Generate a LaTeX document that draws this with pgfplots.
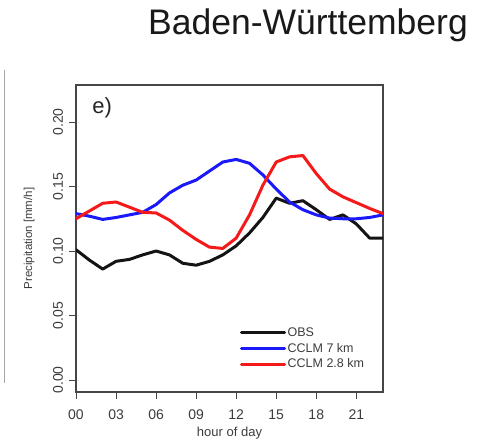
\documentclass[border=0pt]{standalone}
\usepackage{pgfplots}
\pgfplotsset{compat=1.18}
\usepackage{fontspec}
\setmainfont{Liberation Sans}

\definecolor{obs}{RGB}{20,20,20}
\definecolor{c7}{RGB}{25,25,250}
\definecolor{c28}{RGB}{245,25,25}
\definecolor{frame}{RGB}{70,70,70}
\definecolor{txt}{RGB}{60,60,60}

\begin{document}
\begin{tikzpicture}[x=1pt,y=1pt]
\path[use as bounding box] (0,0) rectangle (481,441);

% edge of the neighbouring panel
\draw[black!35, line width=1pt] (4,371) -- (4,58);

% region title
\node[anchor=base east, font=\fontsize{35.5}{35.5}\selectfont, text=black!90, inner sep=0pt]
  at (468,406) {Baden-Württemberg};

\begin{axis}[
  at={(76pt,49pt)}, anchor=south west,
  scale only axis, width=307pt, height=307pt,
  xmin=0, xmax=23,
  ymin=-0.0093, ymax=0.2287,
  axis line style={draw=frame, line width=1.2pt},
  tick style={draw=frame, line width=1pt},
  tick align=outside, major tick length=7pt,
  xtick pos=bottom, ytick pos=left,
  xtick={0,3,6,9,12,15,18,21},
  xticklabels={00,03,06,09,12,15,18,21},
  ytick={0,0.05,0.10,0.15,0.20},
  yticklabels={0.00,0.05,0.10,0.15,0.20},
  ticklabel style={font=\fontsize{14}{14}\selectfont, text=txt},
  /pgf/number format/assume math mode=true,
  xticklabel style={anchor=center, yshift=-16pt},
  yticklabel style={rotate=90, anchor=center},
  yticklabel shift=11pt,
  xlabel={hour of day},
  xlabel style={at={(axis description cs:0.5,-0.1336)}, anchor=center,
    font=\fontsize{13}{13}\selectfont, text=txt},
  ylabel={Precipitation [mm/h]},
  ylabel style={at={(axis description cs:-0.1525,0.5)}, rotate=0, anchor=center,
    font=\fontsize{11.5}{11.5}\selectfont, text=txt},
  legend style={at={(axis description cs:0.534,0.2155)}, anchor=north west,
    draw=none, fill=none, inner sep=0pt, row sep=2.3pt,
    font=\fontsize{12.5}{12.5}\selectfont, text=txt,
    nodes={inner sep=1.5pt}},
  legend cell align=left,
  legend image code/.code={\draw[#1, line width=3pt] (0pt,0pt) -- (35pt,0pt);
    \path (0pt,0pt) -- (43pt,0pt);},
  every axis plot/.append style={line width=3pt, line join=round, line cap=round},
]

\addplot[obs] coordinates {
 (0,0.101) (1,0.093) (2,0.086) (3,0.092) (4,0.0935) (5,0.097)
 (6,0.100) (7,0.097) (8,0.0905) (9,0.089) (10,0.092) (11,0.097)
 (12,0.104) (13,0.114) (14,0.126) (15,0.141) (16,0.137) (17,0.139)
 (18,0.132) (19,0.1245) (20,0.128) (21,0.121) (22,0.110) (23,0.110)};
\addlegendentry{OBS}

\addplot[c7] coordinates {
 (0,0.129) (1,0.127) (2,0.1245) (3,0.126) (4,0.128) (5,0.130)
 (6,0.136) (7,0.145) (8,0.151) (9,0.155) (10,0.162) (11,0.169)
 (12,0.171) (13,0.168) (14,0.159) (15,0.148) (16,0.138) (17,0.132)
 (18,0.128) (19,0.1255) (20,0.125) (21,0.125) (22,0.126) (23,0.128)};
\addlegendentry{CCLM 7 km}

\addplot[c28] coordinates {
 (0,0.125) (1,0.131) (2,0.137) (3,0.138) (4,0.134) (5,0.130)
 (6,0.1295) (7,0.124) (8,0.116) (9,0.109) (10,0.103) (11,0.102)
 (12,0.110) (13,0.128) (14,0.151) (15,0.169) (16,0.173) (17,0.174)
 (18,0.160) (19,0.148) (20,0.142) (21,0.1375) (22,0.133) (23,0.129)};
\addlegendentry{CCLM 2.8 km}

\node[font=\fontsize{22}{22}\selectfont, text=black!85] at (axis description cs:0.085,0.925) {e)};
\end{axis}
\end{tikzpicture}
\end{document}
